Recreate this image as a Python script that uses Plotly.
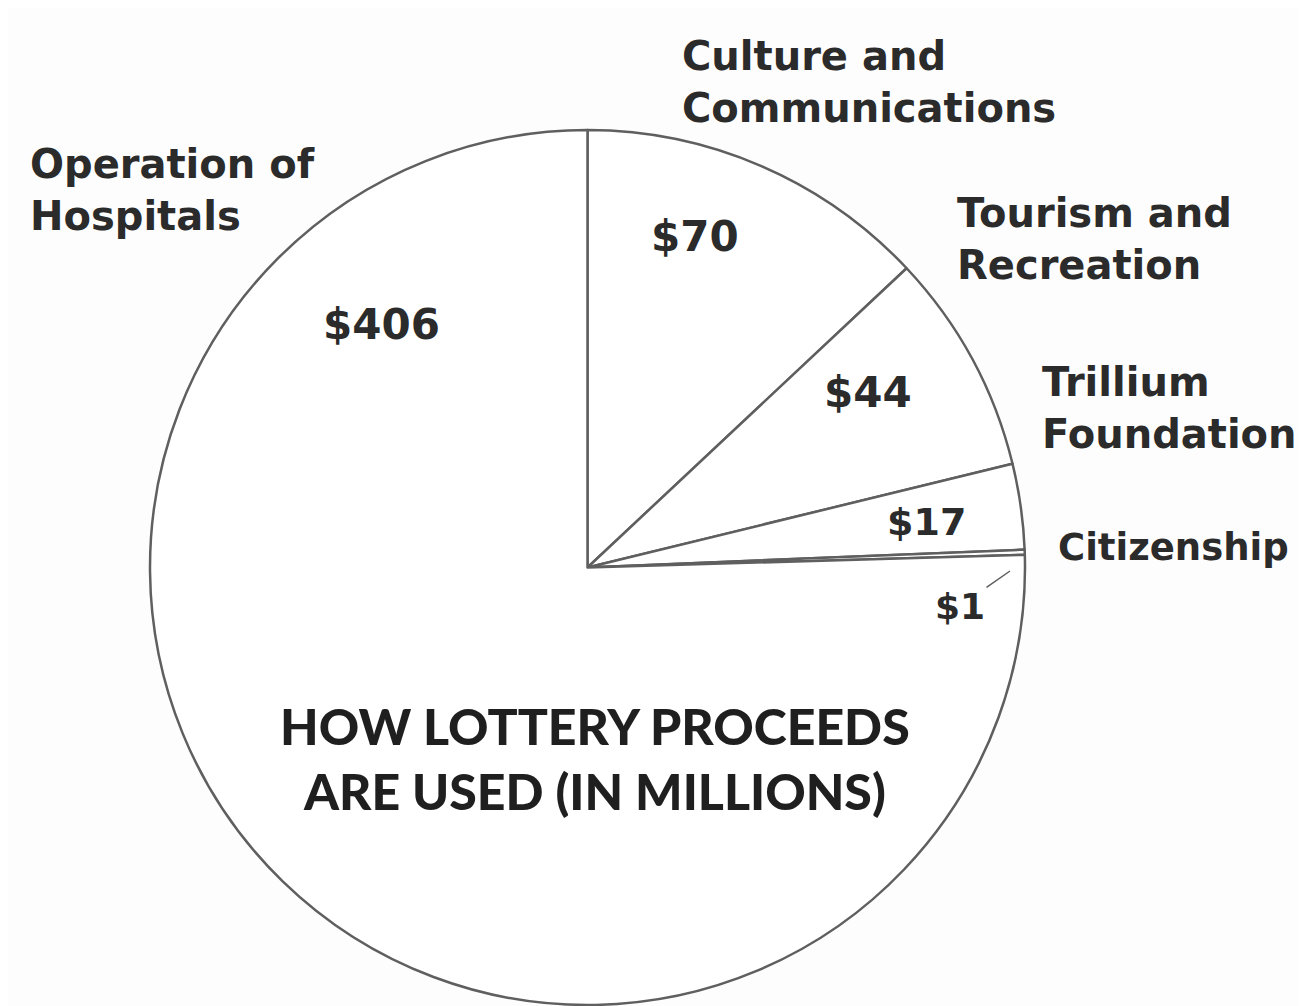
import plotly.graph_objects as go

categories = ["Culture and Communications", "Tourism and Recreation", "Trillium Foundation",
              "Citizenship", "Operation of Hospitals"]
values = [70, 44, 17, 1, 406]
value_labels = ["$70", "$44", "$17", "$1", "$406"]
cat_labels = ["Culture and<br>Communications", "Tourism and<br>Recreation", "Trillium<br>Foundation",
              "Citizenship", "Operation of<br>Hospitals"]
title_text = "HOW LOTTERY PROCEEDS<br>ARE USED (IN MILLIONS)"

W, H = 1307, 1006
OFF = 8  # page body margin
def px(x): return (x - OFF) / W
def py(y): return 1 - (y - OFF) / H

TXT = "#2b2b2b"
LAB_FONT = "DejaVu Sans"
TITLE_FONT = "Lato"
LAB_SIZE = 40
VAL_SIZE = 42
TITLE_SIZE = 50

fig = go.Figure(go.Pie(
    labels=categories, values=values, sort=False, direction="clockwise", rotation=0,
    textinfo="none", hoverinfo="label+value",
    marker=dict(colors=["white"] * 5, line=dict(color="#5f5f5f", width=2.5)),
    domain=dict(x=[px(150), px(1025)], y=[py(1005), py(130)]),
    showlegend=False,
))

ann = []
# category names: left edge, middle baseline of the block, font size
cat_pos = [(680, 96, LAB_SIZE), (955, 253, LAB_SIZE), (1040, 422, LAB_SIZE),
           (1056, 560, LAB_SIZE - 3), (28, 204, LAB_SIZE)]
for lab, (x, midb, sz) in zip(cat_labels, cat_pos):
    ann.append(dict(text=lab, x=px(x), y=py(midb - 0.35 * sz), xref="paper", yref="paper",
                    xanchor="left", yanchor="middle", align="left", showarrow=False,
                    font=dict(family=LAB_FONT, size=sz, color=TXT, weight=700)))

# value labels (centres), kept inside their slices
val_pos = [(695, 236), (868, 392), (926, 522), (960, 606), (381, 325)]
for lab, (x, y) in zip(value_labels, val_pos):
    if lab == "$1":
        ann.append(dict(text=lab, x=px(1010), y=py(571), ax=x - 1010, ay=y - 571,
                        xref="paper", yref="paper",
                        showarrow=True, arrowhead=0, arrowwidth=1.5, arrowcolor="#5f5f5f",
                        font=dict(family=LAB_FONT, size=VAL_SIZE - 6, color=TXT, weight=700)))
    else:
        ann.append(dict(text=lab, x=px(x), y=py(y), xref="paper", yref="paper", xanchor="center",
                        yanchor="middle", showarrow=False,
                        font=dict(family=LAB_FONT, size=VAL_SIZE if lab != "$17" else VAL_SIZE - 4,
                                  color=TXT, weight=700)))

ann.append(dict(text=title_text, x=px(595), y=py(758), xref="paper", yref="paper",
                xanchor="center", yanchor="middle", align="center", showarrow=False,
                font=dict(family=TITLE_FONT, size=TITLE_SIZE, color="#1f1f1f", weight=900)))

fig.update_layout(
    width=W, height=H, margin=dict(l=0, r=0, t=0, b=0),
    paper_bgcolor="#fdfdfd", plot_bgcolor="#fdfdfd",
    annotations=ann,
)
fig.write_html("out.html")
